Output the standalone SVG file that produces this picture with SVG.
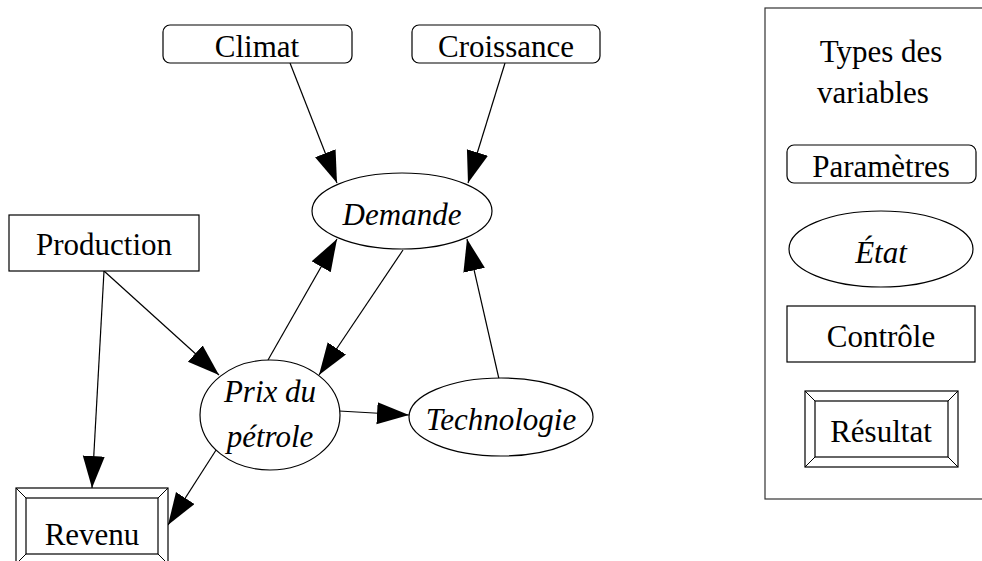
<svg xmlns="http://www.w3.org/2000/svg" width="982" height="561" viewBox="0 0 982 561">
<style>
.s{fill:#fff;stroke:#000;stroke-width:1.2}
.t{font-family:'Liberation Serif','Times New Roman','DejaVu Serif',Times,serif;font-size:31px;text-anchor:middle;fill:#000}
.i{font-style:italic}
.e{stroke:#000;stroke-width:1.2;fill:none;marker-end:url(#ah)}
.thin{stroke:#000;stroke-width:1;fill:none}
</style>
<defs>
<marker id="ah" markerUnits="userSpaceOnUse" markerWidth="34" markerHeight="24" refX="32" refY="11" orient="auto">
<path d="M0,0 L32,11 L0,22 z" fill="#000"/>
</marker>
</defs>
<rect width="982" height="561" fill="#fff"/>
<g id="legend">
<rect x="765" y="8" width="230" height="491" fill="#fff" stroke="#333" stroke-width="1.2"/>
<text class="t" x="881" y="62" font-family="Liberation Serif, DejaVu Serif, serif">Types des</text>
<text class="t" x="873" y="103" font-family="Liberation Serif, DejaVu Serif, serif">variables</text>
<g id="leg-param"><rect class="s" x="787" y="145" width="189" height="38" rx="7"/><text class="t" x="881" y="177" font-family="Liberation Serif, DejaVu Serif, serif">Paramètres</text></g>
<g id="leg-etat"><ellipse class="s" cx="881" cy="249" rx="92" ry="38"/><text class="t i" x="881" y="263" font-family="Liberation Serif, DejaVu Serif, serif">État</text></g>
<g id="leg-ctrl"><rect class="s" x="787" y="306" width="188" height="56"/><text class="t" x="881" y="347" font-family="Liberation Serif, DejaVu Serif, serif">Contrôle</text></g>
<g id="leg-res"><rect class="s" x="805" y="391" width="153" height="76"/><rect class="s" x="815" y="401" width="133" height="56"/><path class="thin" d="M805,391 L815,401 M958,391 L948,401 M805,467 L815,457 M958,467 L948,457"/><text class="t" x="881" y="442" font-family="Liberation Serif, DejaVu Serif, serif">Résultat</text></g>
</g>
<g id="edges">
<line class="e" x1="290" y1="63" x2="337" y2="183"/>
<line class="e" x1="505" y1="63" x2="468" y2="183"/>
<line class="e" x1="104" y1="271" x2="219" y2="375"/>
<line class="e" x1="104" y1="271" x2="92" y2="488"/>
<line class="e" x1="268" y1="360" x2="337" y2="239"/>
<line class="e" x1="403" y1="250" x2="319" y2="375"/>
<line class="e" x1="499" y1="379" x2="467" y2="239"/>
<line class="e" x1="339" y1="411" x2="409" y2="415"/>
<line class="e" x1="218" y1="447" x2="168" y2="525"/>
</g>
<g id="climat"><rect class="s" x="163" y="25" width="189" height="38" rx="7"/><text class="t" x="257" y="57" font-family="Liberation Serif, DejaVu Serif, serif">Climat</text></g>
<g id="croissance"><rect class="s" x="412" y="25" width="188" height="38" rx="7"/><text class="t" x="506" y="57" font-family="Liberation Serif, DejaVu Serif, serif">Croissance</text></g>
<g id="demande"><ellipse class="s" cx="402" cy="211" rx="90" ry="38"/><text class="t i" x="402" y="225" font-family="Liberation Serif, DejaVu Serif, serif">Demande</text></g>
<g id="production"><rect class="s" x="9" y="215" width="190" height="56"/><text class="t" x="104" y="255" font-family="Liberation Serif, DejaVu Serif, serif">Production</text></g>
<g id="prix"><ellipse class="s" cx="270" cy="415" rx="70" ry="55"/><text class="t i" x="270" y="402" font-family="Liberation Serif, DejaVu Serif, serif">Prix du</text><text class="t i" x="270" y="447" font-family="Liberation Serif, DejaVu Serif, serif">pétrole</text></g>
<g id="technologie"><ellipse class="s" cx="501" cy="417" rx="92" ry="39"/><text class="t i" x="501" y="430" font-family="Liberation Serif, DejaVu Serif, serif">Technologie</text></g>
<g id="revenu"><rect class="s" x="16" y="488" width="152" height="76"/><rect class="s" x="26" y="498" width="132" height="56"/><path class="thin" d="M16,488 L26,498 M168,488 L158,498 M16,564 L26,554 M168,564 L158,554"/><text class="t" x="92" y="545" font-family="Liberation Serif, DejaVu Serif, serif">Revenu</text></g>
</svg>
